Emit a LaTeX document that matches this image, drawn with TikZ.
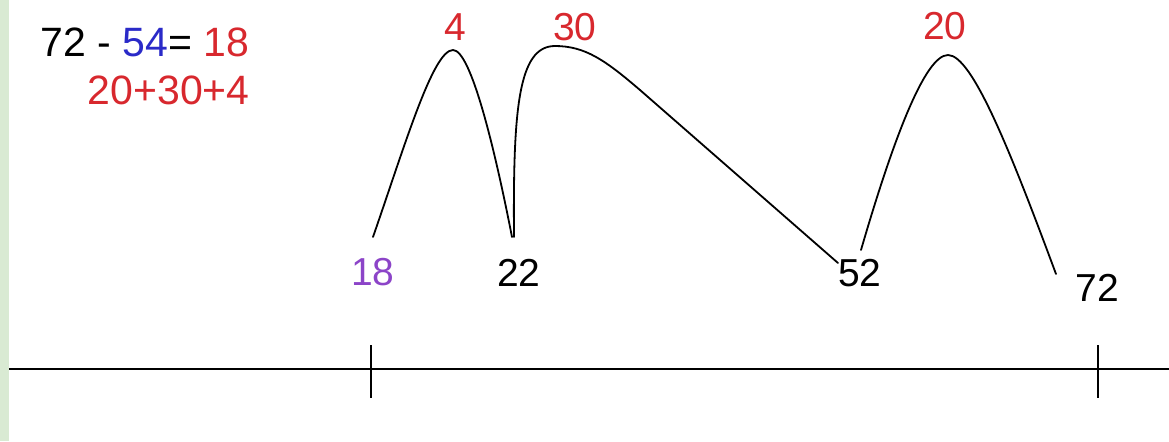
\documentclass[tikz,border=0pt]{standalone}
\usepackage{fontspec}
\setmainfont{Liberation Sans}
\usetikzlibrary{positioning}
\definecolor{hopred}{HTML}{D8282E}
\definecolor{subblue}{HTML}{2A2AC8}
\definecolor{startpurple}{HTML}{8C44C8}
\definecolor{stripgreen}{HTML}{D9EAD3}

\begin{document}
\begin{tikzpicture}[
  x=0.5pt, y=-0.5pt,
  sumtext/.style = {inner sep=0pt, font=\fontsize{20.5}{24}\selectfont},
  hoplabel/.style = {inner sep=0pt, text=hopred, font=\fontsize{19.5}{23}\selectfont},
  marklabel/.style = {inner sep=0pt, font=\fontsize{19.5}{23}\selectfont},
  hop/.style = {line width=0.9pt, line cap=round},
  axis/.style = {line width=1.1pt},
]
\useasboundingbox (0,0) rectangle (1169,441);
\fill[stripgreen] (0,0) rectangle (9,441);

% ---------- subtraction worked out ----------
\node[sumtext, anchor=west] (diff) at (40,42) {72 - \textcolor{subblue}{54}= \textcolor{hopred}{18}};
\node[sumtext, text=hopred, anchor=east] (parts) at (250,90) {20+30+4};

% ---------- number line ----------
\coordinate (lstart) at (9,369);
\coordinate (lend) at (1169,369);
\draw[axis] (lstart) -- (lend);
\foreach \tx in {371,1098}
  \draw[axis] (\tx,345) -- (\tx,398);

% ---------- hop ends and tops ----------
\coordinate (h18) at (373,237);
\coordinate (h22a) at (512,237);
\coordinate (h22b) at (514,237);
\coordinate (h52a) at (838,263);
\coordinate (h52b) at (861,250);
\coordinate (h72) at (1056,274);
\coordinate (pk4) at (453,50);
\coordinate (pk30) at (555,46);
\coordinate (pk20) at (948,55);

% ---------- hops ----------
\draw[hop] (h18) .. controls (405,145) and (433,50) .. (pk4)
               .. controls (471,50) and (495,150) .. (h22a);
\draw[hop] (h22b) .. controls (513,110) and (518,46) .. (pk30)
               .. controls (585,46) and (605,60) .. (640,90) -- (h52a);
\draw[hop] (h52b) .. controls (893,140) and (925,55) .. (pk20)
               .. controls (972,55) and (1010,150) .. (h72);

% ---------- hop sizes ----------
\node[hoplabel] (l4) at (455,27) {4};
\node[hoplabel] (l30) at (575,27) {30};
\node[hoplabel] (l20) at (945,26) {20};

% ---------- landing numbers ----------
\node[marklabel, text=startpurple] (n18) at (373,272) {18};
\node[marklabel] (n22) at (519,273) {22};
\node[marklabel] (n52) at (860,273) {52};
\node[marklabel] (n72) at (1097,288) {72};

\end{tikzpicture}
\end{document}
